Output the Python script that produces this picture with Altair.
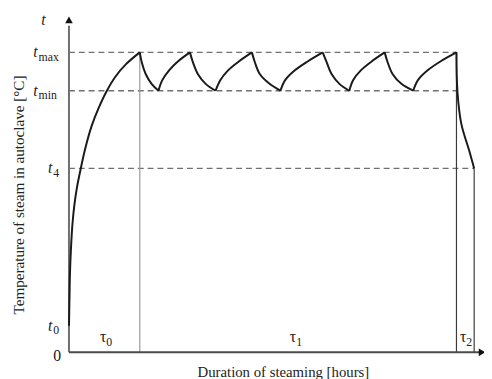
import altair as alt
import pandas as pd

# ---- values (time in minutes, temperature in °C) ----
T_MAX = 152.5
T_MIN = 133.0
T_4 = 93.5
T_0 = 13.5
TAU0_END = 72
TAU1_END = 394
TAU2_END = 412
X_MAX = 418
Y_MAX = 170

rise0_x = [0, 0.5, 1, 2, 3.5, 5.5, 8, 12, 17, 23, 30, 38, 47, 58, 72]
rise0_t = [13.5, 27.5, 40, 52.5, 65, 75, 83.5, 93.5, 104.5, 115, 124, 132.5, 140, 146.5, 152.5]

fall_t = [152.5, 147.5, 141.5, 136.5, 133]
rise_t = [133, 138.5, 143.5, 148, 152.5]

fall1_x = [72, 74, 78, 84, 91]
rise1_x = [91, 95, 102, 111, 123]
fall2_x = [123, 126, 131, 139, 149]
rise2_x = [149, 154, 162, 173, 186]
fall3_x = [186, 189, 194, 204, 215]
rise3_x = [215, 220, 230, 243, 258]
fall4_x = [258, 262, 267, 275, 285]
rise4_x = [285, 289, 297, 308, 321]
fall5_x = [321, 324, 329, 338, 350]
rise5_x = [350, 355, 365, 378, 394]

drop_x = [394, 395, 399, 407, 412]
drop_t = [152.5, 132.5, 116, 102.5, 93.5]

level_subs = ["max", "min", "4", "0"]
level_vals = [T_MAX, T_MIN, T_4, T_0]
tau_subs = ["0", "1", "2"]
tau_pos = [38, 231, 404]

FONT = "Liberation Serif"

# ---- tables ----
segments = [
    ("r0", rise0_x, rise0_t),
    ("f1", fall1_x, fall_t), ("r1", rise1_x, rise_t),
    ("f2", fall2_x, fall_t), ("r2", rise2_x, rise_t),
    ("f3", fall3_x, fall_t), ("r3", rise3_x, rise_t),
    ("f4", fall4_x, fall_t), ("r4", rise4_x, rise_t),
    ("f5", fall5_x, fall_t), ("r5", rise5_x, rise_t),
    ("d", drop_x, drop_t),
]
rows = []
for name, xs_, ts in segments:
    for i, (x, t) in enumerate(zip(xs_, ts)):
        rows.append({"seg": name, "i": i, "m": x, "T": t})
curve_df = pd.DataFrame(rows)

dash_df = pd.DataFrame({
    "x0": [0, 0, 0],
    "x1": [TAU1_END, TAU1_END, TAU2_END],
    "y": [T_MAX, T_MIN, T_4],
})
vert_df = pd.DataFrame({
    "x": [TAU0_END, TAU1_END, TAU2_END],
    "y0": [0, 0, 0],
    "y1": [T_MAX, T_MAX, T_4],
    "c": ["#9a9a9a", "#3a3a3a", "#3a3a3a"],
})
yaxis_df = pd.DataFrame({"x": [0], "y0": [0], "y1": [Y_MAX - 4]})
xaxis_df = pd.DataFrame({"y": [0], "x0": [0], "x1": [X_MAX]})
arrow_up_df = pd.DataFrame({"x": [0], "y": [Y_MAX - 1]})
arrow_right_df = pd.DataFrame({"x": [X_MAX + 2], "y": [0]})

lab_df = pd.DataFrame({
    "x": [-32, -32, -17, -17],
    "y": level_vals,
    "main": ["t"] * 4,
    "sub": level_subs,
})
tau_df = pd.DataFrame({"x": tau_pos, "y": [7.5] * 3, "main": ["τ"] * 3, "sub": tau_subs})
misc_df = pd.DataFrame({"x": [-26], "y": [Y_MAX - 1], "txt": ["t"]})
zero_df = pd.DataFrame({"x": [-12], "y": [-2], "txt": ["0"]})
ytitle_df = pd.DataFrame({"x": [-51], "y": [80], "txt": ["Temperature of steam in autoclave [°C]"]})
xtitle_df = pd.DataFrame({"x": [218], "y": [-12.5], "txt": ["Duration of steaming [hours]"]})

xs = alt.Scale(domain=[0, X_MAX], nice=False, zero=False)
ys = alt.Scale(domain=[0, Y_MAX], nice=False, zero=False)


def X(f):
    return alt.X(f"{f}:Q", scale=xs, axis=None)


def Y(f):
    return alt.Y(f"{f}:Q", scale=ys, axis=None)


dashed = alt.Chart(dash_df).mark_rule(strokeDash=[6, 4], color="#707070", strokeWidth=1.4).encode(
    x=X("x0"), x2="x1", y=Y("y"))
verts = alt.Chart(vert_df).mark_rule(strokeWidth=1.2).encode(
    x=X("x"), y=Y("y0"), y2="y1", color=alt.Color("c:N", scale=None))
yaxis = alt.Chart(yaxis_df).mark_rule(color="#6e6e6e", strokeWidth=2).encode(
    x=X("x"), y=Y("y0"), y2="y1")
xaxis = alt.Chart(xaxis_df).mark_rule(color="#4a4a4a", strokeWidth=2).encode(
    x=X("x0"), x2="x1", y=Y("y"))
arrow_up = alt.Chart(arrow_up_df).mark_point(shape="triangle-up", filled=True, size=60, color="#111", opacity=1).encode(
    x=X("x"), y=Y("y"))
arrow_right = alt.Chart(arrow_right_df).mark_point(shape="triangle-right", filled=True, size=60, color="#111", opacity=1).encode(
    x=X("x"), y=Y("y"))
curve = alt.Chart(curve_df).mark_line(color="#1a1a1a", strokeWidth=2, interpolate="catmull-rom").encode(
    x=X("m"), y=Y("T"), detail="seg:N", order="i:Q")

lab_main = alt.Chart(lab_df).mark_text(font=FONT, fontStyle="italic", fontSize=16, align="right", baseline="middle", color="#222").encode(
    x=X("x"), y=Y("y"), text="main:N")
lab_sub = alt.Chart(lab_df).mark_text(font=FONT, fontSize=12, align="left", baseline="middle", dx=1, dy=4.5, color="#222").encode(
    x=X("x"), y=Y("y"), text="sub:N")
tau_main = alt.Chart(tau_df).mark_text(font=FONT, fontSize=16, align="right", baseline="middle", color="#222").encode(
    x=X("x"), y=Y("y"), text="main:N")
tau_sub = alt.Chart(tau_df).mark_text(font=FONT, fontSize=12, align="left", baseline="middle", dy=4.5, color="#222").encode(
    x=X("x"), y=Y("y"), text="sub:N")
t_top = alt.Chart(misc_df).mark_text(font=FONT, fontStyle="italic", fontSize=16, align="center", baseline="middle", color="#222").encode(
    x=X("x"), y=Y("y"), text="txt:N")
zero = alt.Chart(zero_df).mark_text(font=FONT, fontSize=16, align="center", baseline="middle", color="#222").encode(
    x=X("x"), y=Y("y"), text="txt:N")
ytitle = alt.Chart(ytitle_df).mark_text(font=FONT, fontSize=15.4, angle=270, align="center", baseline="middle", color="#222").encode(
    x=X("x"), y=Y("y"), text="txt:N")
xtitle = alt.Chart(xtitle_df).mark_text(font=FONT, fontSize=15, align="center", baseline="alphabetic", color="#222").encode(
    x=X("x"), y=Y("y"), text="txt:N")

chart = alt.layer(
    dashed, verts, yaxis, xaxis, arrow_up, arrow_right, curve,
    lab_main, lab_sub, tau_main, tau_sub, t_top, zero, ytitle, xtitle,
).properties(
    width=X_MAX, height=340,
    autosize=alt.AutoSizeParams(type="none"),
    padding={"left": 62, "top": 7, "right": 4, "bottom": 24},
    background="white",
).configure_view(stroke=None)

chart.save("out.html", embed_options={"renderer": "svg", "actions": False})
